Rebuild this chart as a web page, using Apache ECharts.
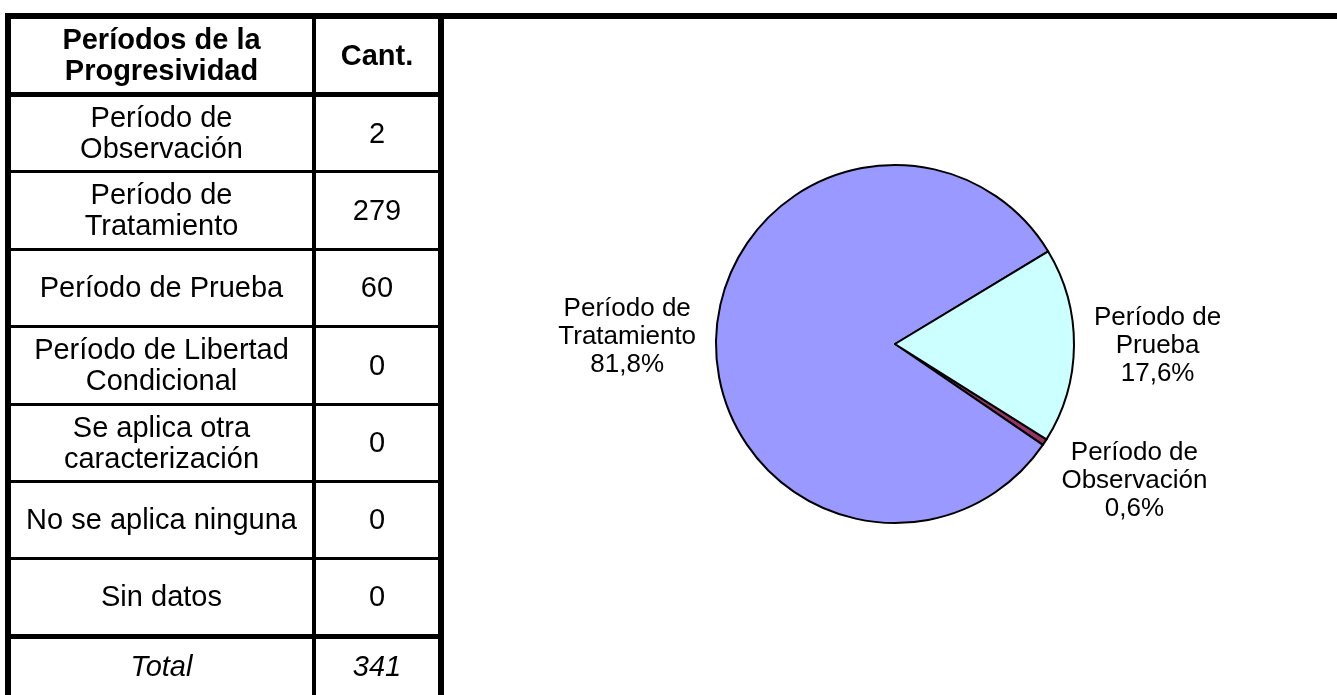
<!DOCTYPE html>
<html>
<head>
<meta charset="utf-8">
<script src="https://cdn.jsdelivr.net/npm/echarts@6/dist/echarts.min.js"></script>
<style>
* { box-sizing: border-box; }
body { margin: 0; width: 1337px; height: 695px; background: #fff; overflow: hidden;
       font-family: "Liberation Sans", Arial, sans-serif; }
#chart { position: absolute; left: 0; top: 0; width: 1337px; height: 695px; }
.line { position: absolute; background: #000; z-index: 3; }
.cell { position: absolute; display: flex; align-items: center; justify-content: center;
        text-align: center; font-size: 29px; line-height: 31px; color: #000; padding: 0 6px; z-index: 2; }
.head { font-weight: bold; }
.total { font-style: italic; }
</style>
</head>
<body>
<div id="chart"></div>
<div id="table"></div>
<script>
// data
var headers = ['Períodos de la Progresividad', 'Cant.'];
var categories = ['Período de Observación', 'Período de Tratamiento', 'Período de Prueba',
                  'Período de Libertad Condicional', 'Se aplica otra caracterización',
                  'No se aplica ninguna', 'Sin datos'];
var counts = [2, 279, 60, 0, 0, 0, 0];
var totalLabel = 'Total';
var totalCount = 341;

// style
var sliceColors = ['#993366', '#9999FF', '#CCFFFF', '#FFFFCC', '#660066', '#FF8080', '#0066CC'];

// ---- table (html) ----
var tbl = document.getElementById('table');
var rowLines = [16, 94, 171, 249, 326, 404, 481, 558, 636];
var rowLineW = [6, 5, 3, 3, 3, 3, 3, 3, 5];
var colX = [11, 312, 316, 438]; // inner edges of columns

function addLine(x, y, w, h) {
    var d = document.createElement('div');
    d.className = 'line';
    d.style.left = x + 'px'; d.style.top = y + 'px';
    d.style.width = w + 'px'; d.style.height = h + 'px';
    tbl.appendChild(d);
}
function addCell(txt, cls, col, top, bottom) {
    var d = document.createElement('div');
    d.className = 'cell ' + cls;
    var x0 = col === 0 ? colX[0] : colX[2];
    var x1 = col === 0 ? colX[1] : colX[3];
    d.style.left = x0 + 'px'; d.style.width = (x1 - x0) + 'px';
    d.style.top = top + 'px'; d.style.height = (bottom - top) + 'px';
    d.textContent = txt;
    tbl.appendChild(d);
}

// horizontal lines
rowLines.forEach(function (y, i) {
    var w = rowLineW[i];
    addLine(5, y - w / 2, i === 0 ? 1332 : 439, w);
});
// vertical lines
addLine(5, 13, 6, 682);
addLine(312, 13, 4, 682);
addLine(438, 13, 6, 682);

var rows = [[headers[0], headers[1], 'head']];
categories.forEach(function (c, i) { rows.push([c, String(counts[i]), '']); });
rows.push([totalLabel, String(totalCount), 'total']);
rows.forEach(function (r, i) {
    var top = rowLines[i] + rowLineW[i] / 2;
    var bottom = i + 1 < rowLines.length ? rowLines[i + 1] - rowLineW[i + 1] / 2 : 695;
    addCell(r[0], r[2], 0, top, bottom);
    addCell(r[1], r[2], 1, top, bottom);
});

// ---- pie ----
var cx = 895, cy = 344, R = 179, startAngle = -32.2;
var pieData = [];
categories.forEach(function (c, i) {
    if (counts[i] > 0) {
        pieData.push({ name: c, value: counts[i], itemStyle: { color: sliceColors[i] } });
    }
});
var sum = pieData.reduce(function (s, d) { return s + d.value; }, 0);
// mid angles (clockwise from startAngle)
var acc = 0;
var midAngles = pieData.map(function (d) {
    var a = d.value / sum * 360;
    var m = startAngle - (acc + a / 2);
    acc += a;
    return m * Math.PI / 180;
});

var myChart = echarts.init(document.getElementById('chart'));
var option = {
    animation: false,
    series: [{
        type: 'pie',
        center: [cx, cy],
        radius: R,
        startAngle: startAngle,
        clockwise: true,
        avoidLabelOverlap: false,
        itemStyle: { borderColor: '#000', borderWidth: 2 },
        emphasis: { disabled: true },
        label: {
            show: true,
            position: 'outside',
            color: '#000',
            fontFamily: '"Liberation Sans", Arial, sans-serif',
            fontSize: 26,
            lineHeight: 28,
            formatter: function (p) {
                var pct = (p.value / sum * 100).toFixed(1).replace('.', ',') + '%';
                return p.name.replace('Período de ', 'Período de\n') + '\n' + pct;
            }
        },
        labelLine: { show: false },
        labelLayout: function (p) {
            // excel-like: label box sits just outside the slice
            var a = midAngles[p.dataIndex];
            var w = p.labelRect.width, h = p.labelRect.height;
            var d = R + 20;
            var c = Math.cos(a), s = Math.sin(a);
            var kx = Math.min(1, Math.abs(c) * 1.5) * (c < 0 ? -1 : 1);
            return {
                x: cx + d * c + kx * w / 2,
                y: cy - d * s - s * 1.2 * h / 2,
                align: 'center',
                verticalAlign: 'middle'
            };
        },
        data: pieData
    }]
};
myChart.setOption(option);
</script>
</body>
</html>
